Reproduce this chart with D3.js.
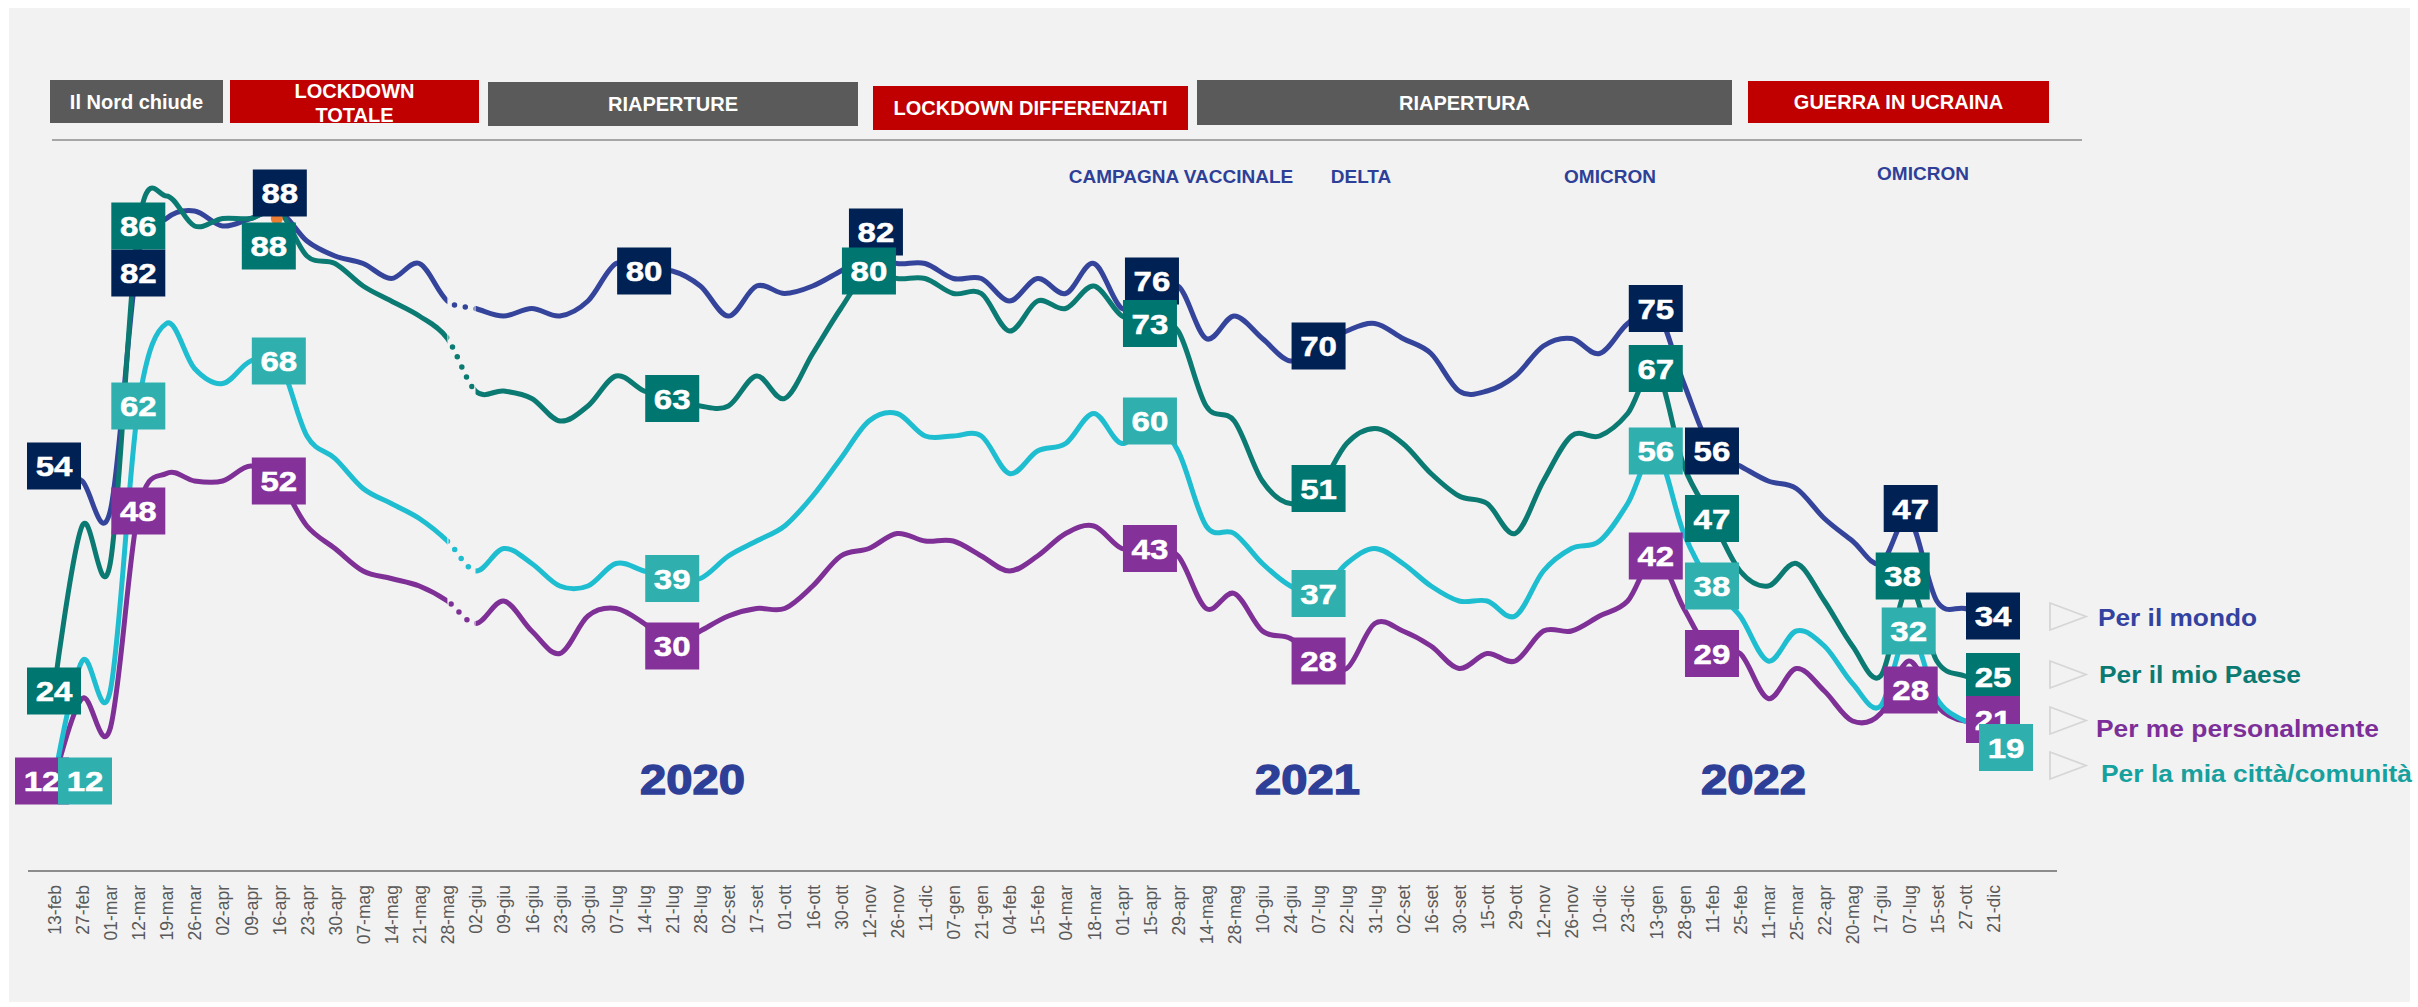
<!DOCTYPE html>
<html>
<head>
<meta charset="utf-8">
<script src="https://cdn.jsdelivr.net/npm/d3@7"></script>
<style>
  html, body { margin: 0; padding: 0; background: #ffffff; }
  svg { display: block; }
  text { font-family: "Liberation Sans", Arial, sans-serif; }
</style>
</head>
<body>
<svg id="chart" width="2418" height="1007"></svg>
<script>
// ---------------- DATA ----------------
const categories = ["13-feb","27-feb","01-mar","12-mar","19-mar","26-mar","02-apr","09-apr","16-apr","23-apr","30-apr","07-mag","14-mag","21-mag","28-mag","02-giu","09-giu","16-giu","23-giu","30-giu","07-lug","14-lug","21-lug","28-lug","02-set","17-set","01-ott","16-ott","30-ott","12-nov","26-nov","11-dic","07-gen","21-gen","04-feb","15-feb","04-mar","18-mar","01-apr","15-apr","29-apr","14-mag","28-mag","10-giu","24-giu","07-lug","22-lug","31-lug","02-set","16-set","30-set","15-ott","29-ott","12-nov","26-nov","10-dic","23-dic","13-gen","28-gen","11-feb","25-feb","11-mar","25-mar","22-apr","20-mag","17-giu","07-lug","15-set","27-ott","21-dic"];

const perIlMondo = [54,52,48,82,87,88,86,87,88,84,82,81,79,81,76,75,74,75,74,76,81,80,80,78,74,78,77,78,80,82,81,81,79,79,76,79,77,81,75,76,78,71,74,71,68,70,72,73,71,69,64,64,66,70,71,69,73,75,65,56,54,52,51,47,44,41,47,36,35,34];
const perIlMioPaese = [24,46,41,86,90,86,87,87,88,82,81,78,76,74,71,64,64,63,60,62,66,64,63,62,62,66,63,69,75,80,79,79,77,77,72,76,75,78,74,73,72,62,60,52,49,51,57,59,57,53,50,49,45,52,58,58,61,67,54,47,40,38,41,36,30,26,38,28,26,25];
const perMePersonalmente = [12,23,19,48,53,52,52,54,52,46,43,40,39,38,36,33,36,32,29,34,35,33,30,32,34,35,35,38,42,43,45,44,44,42,40,42,45,46,43,43,42,35,37,32,31,28,27,33,32,30,27,29,28,32,32,34,36,42,35,29,29,23,27,24,20,21,28,22,20,21];
const perLaMiaCitta = [12,28,24,62,73,67,65,68,68,58,55,51,49,47,44,40,43,41,38,38,41,40,39,39,42,44,46,50,55,60,61,58,58,58,53,56,57,61,57,60,56,46,45,41,38,37,41,43,41,38,36,36,34,40,43,44,49,56,45,38,34,28,32,30,25,22,32,23,20,19];

const seriesNames = ["Per il mondo","Per il mio Paese","Per me personalmente","Per la mia città/comunità"];
// indices of the points that carry a value box
const labelIdxMondo  = [0,3,8,21,29,39,45,57,59,66,69];
const labelIdxPaese  = [0,3,8,22,29,39,45,57,59,66,69];
const labelIdxMe     = [0,3,8,22,39,45,57,59,66,69];
const labelIdxCitta  = [0,3,8,22,39,45,57,59,66,69];
// dotted (missing-survey) stretch between these two category indices
const gapFromIdx = 14, gapToIdx = 15;

const periodLabels = ["Il Nord chiude","LOCKDOWN|TOTALE","RIAPERTURE","LOCKDOWN DIFFERENZIATI","RIAPERTURA","GUERRA IN UCRAINA"];
const periodKinds  = ["grey","red","grey","red","grey","red"];
const eventLabels  = ["CAMPAGNA VACCINALE","DELTA","OMICRON","OMICRON"];
const yearLabels   = ["2020","2021","2022"];

// ---------------- STYLE / LAYOUT ----------------
const lineColors = ["#34449b","#0b7a72","#7e3096","#1fbdd0"];
const boxColors  = ["#002153","#007670","#84319a","#2fb0af"];
const legendColors = ["#3342a0","#0a7a72","#7c2f98","#16a09e"];

const svg = d3.select("#chart");
svg.append("rect").attr("x",9).attr("y",8).attr("width",2401).attr("height",994).attr("fill","#f2f2f2");

const idx = d3.range(categories.length);
const x = d3.scalePoint().domain(idx).range([54, 1993]);
const y = d3.scaleLinear().domain([0,100]).range([871,121]);

// rules
svg.append("line").attr("x1",52).attr("x2",2082).attr("y1",140).attr("y2",140)
  .attr("stroke","#a6a6a6").attr("stroke-width",2);
svg.append("line").attr("x1",28).attr("x2",2057).attr("y1",871).attr("y2",871)
  .attr("stroke","#8c8c8c").attr("stroke-width",2);

// x axis labels
const xAxis = d3.axisBottom(x).tickSize(0).tickPadding(0).tickFormat(i=>categories[i]);
const gx = svg.append("g").attr("transform","translate(0,871)").call(xAxis);
gx.select(".domain").remove();
gx.selectAll("text")
  .attr("transform","rotate(-90)")
  .attr("x",-14).attr("y",0).attr("dy","0.36em")
  .style("text-anchor","end")
  .attr("fill","#595959")
  .style("font-size","17.5px")
  .style("font-family","'Liberation Sans', Arial, sans-serif");

// period banners
const bannerBoxes = [[50,80,223,123],[230,80,479,123],[488,82,858,126],[873,86,1188,130],[1197,80,1732,125],[1748,81,2049,123]];
periodLabels.forEach((lab,i)=>{
  const [x0,y0,x1,y1] = bannerBoxes[i];
  svg.append("rect").attr("x",x0).attr("y",y0).attr("width",x1-x0).attr("height",y1-y0)
    .attr("fill", periodKinds[i]==="red" ? "#c00000" : "#5a5a5a");
  const parts = lab.split("|");
  const cx = (x0+x1)/2;
  if (parts.length===1) {
    svg.append("text").attr("x",cx).attr("y",(y0+y1)/2+7).attr("text-anchor","middle")
      .attr("fill","#ffffff").style("font-size","20px").style("font-weight","bold").text(lab);
  } else {
    svg.append("text").attr("x",cx).attr("y",98).attr("text-anchor","middle")
      .attr("fill","#ffffff").style("font-size","20px").style("font-weight","bold").text(parts[0]);
    svg.append("text").attr("x",cx).attr("y",122).attr("text-anchor","middle")
      .attr("fill","#ffffff").style("font-size","20px").style("font-weight","bold").text(parts[1]);
  }
});

// event annotations
const eventPos = [[1181,183],[1361,183],[1610,183],[1923,180]];
eventLabels.forEach((t,i)=>{
  svg.append("text").attr("x",eventPos[i][0]).attr("y",eventPos[i][1]).attr("text-anchor","middle")
    .attr("fill","#2e3f98").style("font-size","19px").style("font-weight","bold").text(t);
});

// year labels
const yearPos = [692,1307,1753];
yearLabels.forEach((t,i)=>{
  svg.append("text").attr("x",yearPos[i]-52).attr("y",794)
    .attr("textLength",105).attr("lengthAdjust","spacingAndGlyphs")
    .attr("fill","#2e3f98").attr("stroke","#2e3f98").attr("stroke-width",1.4)
    .style("font-size","43px").style("font-weight","bold").text(t);
});

// lines
const allSeries = [perIlMondo, perIlMioPaese, perMePersonalmente, perLaMiaCitta];
const line = d3.line().x((d,i)=>x(i)).y(d=>y(d)).curve(d3.curveCardinal.tension(0));
const gx0 = x(gapFromIdx), gx1 = x(gapToIdx);
const defs = svg.append("defs");
defs.append("clipPath").attr("id","solidClip").call(c=>{
  c.append("rect").attr("x",0).attr("y",0).attr("width",gx0).attr("height",1007);
  c.append("rect").attr("x",gx1).attr("y",0).attr("width",2418-gx1).attr("height",1007);
});
defs.append("clipPath").attr("id","gapClip").append("rect")
  .attr("x",gx0+1).attr("y",0).attr("width",gx1-gx0-2).attr("height",1007);

allSeries.forEach((s,k)=>{
  svg.append("path").attr("d",line(s)).attr("fill","none").attr("stroke",lineColors[k])
    .attr("stroke-width",5).attr("stroke-linejoin","round").attr("stroke-linecap","round")
    .attr("clip-path","url(#solidClip)");
  svg.append("path").attr("d",line(s)).attr("fill","none").attr("stroke",lineColors[k])
    .attr("stroke-width",5.5).attr("stroke-linecap","round").attr("stroke-dasharray","0 11")
    .attr("clip-path","url(#gapClip)");
});

// small orange marker partly hidden under the 16-apr boxes
svg.append("circle").attr("cx",x(8)-2).attr("cy",y(87)).attr("r",6).attr("fill","#ed7d31");

// value boxes
const labelIdx = [labelIdxMondo, labelIdxPaese, labelIdxMe, labelIdxCitta];
const offsets = {
  "0-3":[0,17], "0-8":[1,-18], "0-29":[7,-24], "0-39":[2,-20], "0-66":[2,-10],
  "1-8":[-10,35], "1-66":[-6,-10], "1-69":[0,-7],
  "2-0":[-12,0], "2-66":[2,29], "2-69":[0,6],
  "3-0":[31,0], "3-69":[13,19]
};
const BW = 54, BH = 47;
labelIdx.forEach((idxs,k)=>{
  idxs.forEach(i=>{
    const off = offsets[k+"-"+i] || [0,0];
    const cx = x(i) + off[0];
    const cy = y(allSeries[k][i]) + off[1];
    const g = svg.append("g");
    g.append("rect").attr("x",cx-BW/2).attr("y",cy-BH/2).attr("width",BW).attr("height",BH)
      .attr("fill",boxColors[k]);
    g.append("text").attr("transform",`translate(${cx},${cy+10}) scale(1.18,1)`)
      .attr("text-anchor","middle").attr("fill","#ffffff")
      .attr("stroke","#ffffff").attr("stroke-width",0.5)
      .style("font-size","28px").style("font-weight","bold").text(allSeries[k][i]);
  });
});

// legend
const legendY = [626,683,737,782];
const legendX = [2098,2099,2096,2101];
const legendW = [159,202,283,311];
const triTop = [603,661,707,752];
seriesNames.forEach((n,k)=>{
  const t = triTop[k];
  svg.append("polygon").attr("points",`2050,${t} 2086,${t+13.5} 2050,${t+27}`)
    .attr("fill","none").attr("stroke","#d6d6d6").attr("stroke-width",1.8);
  svg.append("text").attr("x",legendX[k]).attr("y",legendY[k])
    .attr("textLength",legendW[k]).attr("lengthAdjust","spacingAndGlyphs")
    .attr("fill",legendColors[k]).style("font-size","23px").style("font-weight","bold").text(n);
});
</script>
</body>
</html>
